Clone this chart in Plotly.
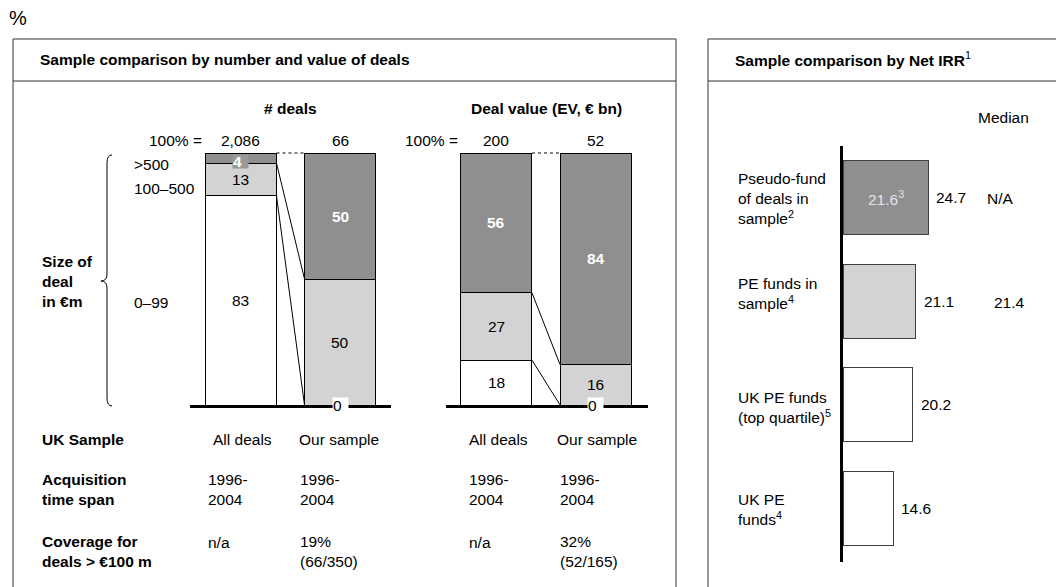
import plotly.graph_objects as go

# ---------------- data ----------------
group_labels = ["All deals", "Our sample"]
size_classes = ["0–99", "100–500", ">500"]          # bottom -> top

deals_small = [83, 0]
deals_mid = [13, 50]
deals_large = [4, 50]
deals_totals = ["2,086", "66"]

value_small = [18, 0]
value_mid = [27, 16]
value_large = [56, 84]
value_totals = ["200", "52"]

time_span = ["1996-<br>2004", "1996-<br>2004", "1996-<br>2004", "1996-<br>2004"]
coverage = ["n/a", "19%<br>(66/350)", "n/a", "32%<br>(52/165)"]

irr_categories = ["Pseudo-fund<br>of deals in<br>sample<sup>2</sup>",
                  "PE funds in<br>sample<sup>4</sup>",
                  "UK PE funds<br>(top quartile)<sup>5</sup>",
                  "UK PE<br>funds<sup>4</sup>"]
irr_values = [24.7, 21.1, 20.2, 14.6]
irr_inner = ["21.6<sup>3</sup>", "", "", ""]
irr_medians = ["N/A", "21.4", "", ""]

# ---------------- helpers ----------------
W, H = 1056, 587
def px(x): return x / W
def py(y): return 1 - y / H

FONT = "Liberation Sans, Arial, Helvetica, sans-serif"
FS = 15.5
DARK = "#8f8f8f"
LIGHT = "#d3d3d3"
fills = ["white", LIGHT, DARK]
txtcol = ["black", "black", "white"]
BAR_W = 0.717
group_pos = [0, 1]

fig = go.Figure()
ann = []

def txt(text, x, y, xanchor="left", yanchor="middle", xref="paper", yref="paper",
        size=FS, color="black", bold=False, **kw):
    if bold:
        text = "<b>" + text.replace("<br>", "</b><br><b>") + "</b>"
    d = dict(text=text, x=x, y=y, xref=xref, yref=yref, xanchor=xanchor,
             yanchor=yanchor, showarrow=False, align="left",
             font=dict(family=FONT, size=size, color=color))
    d.update(kw)
    ann.append(d)

def stacked(xa, ya, segs, totals):
    sums = [sum(s[i] for s in segs) for i in range(len(group_pos))]
    heights = [[s[i] / sums[i] * 100 for i in range(len(group_pos))] for s in segs]
    for k, h in enumerate(heights):
        fig.add_trace(go.Bar(x=group_pos, y=h, width=BAR_W,
                             marker=dict(color=fills[k], line=dict(color="black", width=1)),
                             xaxis=xa, yaxis=ya, showlegend=False, hoverinfo="skip"))
    # segment labels
    for i in range(len(group_pos)):
        base = 0
        for k, seg in enumerate(segs):
            v = seg[i]
            h = heights[k][i]
            if v == 0:
                txt(str(v), group_pos[i], 0, xanchor="center", xref=xa, yref=ya,
                    bgcolor="white", width=15, height=15, borderpad=0)
            elif h < 6:
                txt(str(v), group_pos[i], base + h / 2, xanchor="center", xref=xa, yref=ya,
                    color=txtcol[k], bold=(k == 2), bgcolor="#999999", width=15, height=13,
                    borderpad=0, yshift=-3)
            else:
                txt(str(v), group_pos[i], base + h / 2, xanchor="center", xref=xa, yref=ya,
                    color=txtcol[k], bold=(k == 2))
            base += h
    # connectors between bars (cumulative boundaries)
    cum = [[sum(heights[j][i] for j in range(k + 1)) for i in range(len(group_pos))]
           for k in range(len(segs))]
    for k, c in enumerate(cum):
        fig.add_trace(go.Scatter(x=[group_pos[0] + BAR_W / 2, group_pos[1] - BAR_W / 2],
                                 y=[c[0], c[1]], mode="lines",
                                 line=dict(color="black", width=1,
                                           dash="dot" if k == len(cum) - 1 else "solid"),
                                 xaxis=xa, yaxis=ya, showlegend=False, hoverinfo="skip"))
    # totals
    for i, t in enumerate(totals):
        txt(t, group_pos[i], py(141), xanchor="center", xref=xa)

stacked("x", "y", [deals_small, deals_mid, deals_large], deals_totals)
stacked("x2", "y2", [value_small, value_mid, value_large], value_totals)

# IRR bars
fig.add_trace(go.Bar(x=irr_values, y=irr_categories, orientation="h", width=0.714,
                     marker=dict(color=[DARK, LIGHT, "white", "white"],
                                 line=dict(color="#404040", width=1)),
                     xaxis="x3", yaxis="y3", showlegend=False, hoverinfo="skip"))
for c, v, inner, med in zip(irr_categories, irr_values, irr_inner, irr_medians):
    txt(f"{v:.1f}", v, c, xref="x3", yref="y3", xshift=6)
    if inner:
        txt(inner, v / 2, c, xanchor="center", xref="x3", yref="y3", color="#e4e4e4")
irr_label_y = [199, 294, 407, 509]
for c, yy in zip(irr_categories, irr_label_y):
    txt(c, px(736), py(yy))
txt(irr_medians[0], px(985), py(199))
txt(irr_medians[1], px(992), py(302))
txt("Median", px(1003), py(117), xanchor="center")

# ---------------- texts ----------------
txt("%", px(7), py(18), size=20)
txt("Sample comparison by number and value of deals", px(38), py(60), bold=True)
txt("<b>Sample comparison by Net IRR</b><sup>1</sup>", px(733), py(59))
txt("# deals", 0.5, py(108), xanchor="center", xref="x", bold=True)
txt("Deal value (EV, € bn)", 0.5, py(108), xanchor="center", xref="x2", bold=True)
txt("100% =", px(204), py(141), xanchor="right")
txt("100% =", px(460), py(141), xanchor="right")
txt(size_classes[2], px(132), py(164))
txt(size_classes[1], px(132), py(189))
txt(size_classes[0], px(132), py(302))
txt("Size of<br>deal<br>in €m", px(40), py(281), bold=True)

txt("UK Sample", px(40), py(439), bold=True)
txt("Acquisition<br>time span", px(40), py(489), bold=True)
txt("Coverage for<br>deals > €100 m", px(40), py(551), bold=True)
col_x_head = [211, 297, 467, 555]
col_x_body = [206, 298, 467, 558]
for j in range(4):
    txt(group_labels[j % 2], px(col_x_head[j]), py(439))
    txt(time_span[j], px(col_x_body[j]), py(489))
    if "<br>" in coverage[j]:
        txt(coverage[j], px(col_x_body[j]), py(551))
    else:
        txt(coverage[j], px(col_x_body[j]), py(542))

# ---------------- shapes ----------------
shapes = []
LC = "#333333"
def rect(x0, y0, x1, y1):
    shapes.append(dict(type="rect", xref="paper", yref="paper", x0=px(x0), x1=px(x1),
                       y0=py(y1), y1=py(y0), line=dict(color=LC, width=1)))
def hline(x0, x1, y):
    shapes.append(dict(type="line", xref="paper", yref="paper", x0=px(x0), x1=px(x1),
                       y0=py(y), y1=py(y), line=dict(color=LC, width=1)))
rect(13, 39, 676, 620)
hline(13, 676, 81)
rect(708, 39, 1080, 620)
hline(708, 1080, 81)

def P(x, y): return f"{px(x):.5f},{py(y):.5f}"
brace = (f"M {P(112,155)} Q {P(107,155)} {P(107,163)} L {P(107,274)} "
         f"Q {P(107,281)} {P(101,281)} Q {P(107,281)} {P(107,288)} "
         f"L {P(107,398)} Q {P(107,406)} {P(112,406)}")
shapes.append(dict(type="path", xref="paper", yref="paper", path=brace,
                   line=dict(color="black", width=1)))

# ---------------- layout ----------------
noax = dict(showgrid=False, zeroline=False, showticklabels=False, ticks="", fixedrange=True)
fig.update_layout(
    width=W, height=H, margin=dict(l=0, r=0, t=0, b=0),
    paper_bgcolor="white", plot_bgcolor="rgba(0,0,0,0)",
    barmode="stack", showlegend=False,
    font=dict(family=FONT, size=FS, color="black"),
    xaxis=dict(domain=[px(190), px(391)], range=[-0.515, 1.515], showline=True,
               linecolor="black", linewidth=3, anchor="y", **noax),
    yaxis=dict(domain=[py(405), py(152)], range=[0, 100.4], visible=False, anchor="x"),
    xaxis2=dict(domain=[px(446), px(648)], range=[-0.506, 1.526], showline=True,
                linecolor="black", linewidth=3, anchor="y2", **noax),
    yaxis2=dict(domain=[py(405), py(152)], range=[0, 100.4], visible=False, anchor="x2"),
    xaxis3=dict(domain=[px(843), px(1056)], range=[0, 61.74], visible=False, anchor="y3"),
    yaxis3=dict(domain=[py(562), py(146)], range=[3.516, -0.497], type="category",
                categoryorder="array", categoryarray=irr_categories, showline=True,
                linecolor="black", linewidth=3, anchor="x3", **noax),
    annotations=ann, shapes=shapes,
)

fig.write_html("out.html",
               config={"displayModeBar": False, "staticPlot": True},
               post_script="document.body.style.margin='0px';"
                           "document.body.style.overflow='hidden';")
